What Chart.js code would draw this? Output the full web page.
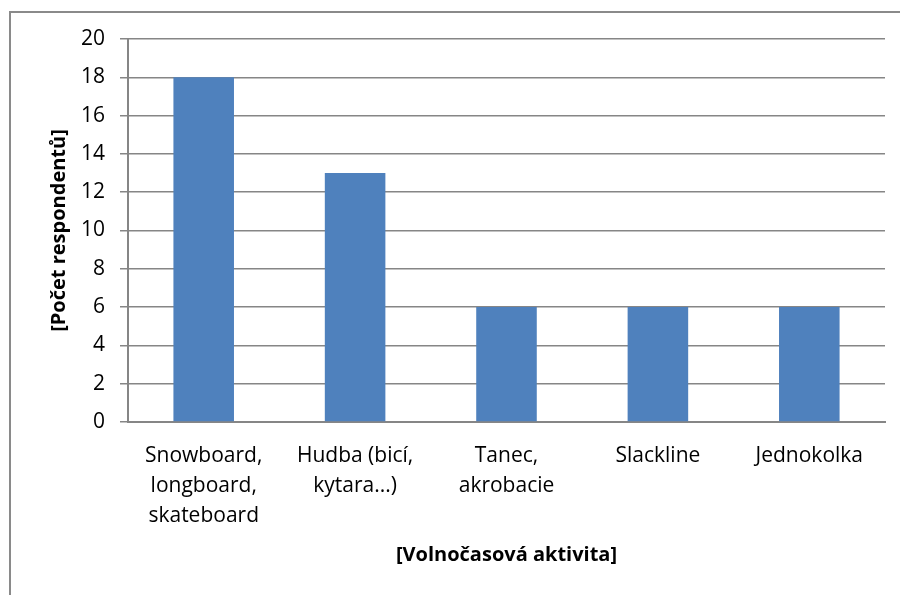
<!DOCTYPE html>
<html>
<head>
<meta charset="utf-8">
<script src="https://cdn.jsdelivr.net/npm/chart.js@4.4.1/dist/chart.umd.min.js"></script>
<style>
  html, body { margin: 0; padding: 0; background: #fff; overflow: hidden; }
  #wrap { position: relative; width: 900px; height: 595px; }
  #frame { position: absolute; left: 9px; top: 11px; width: 1000px; height: 1000px;
           border: 2px solid #8a8a8a; box-sizing: border-box; }
  canvas { position: absolute; left: 0; top: 0; }
</style>
</head>
<body>
<div id="wrap">
  <div id="frame"></div>
  <canvas id="barChart" width="900" height="595"></canvas>
</div>
<script>
let categories = [
    ["Snowboard,", "longboard,", "skateboard"],
    ["Hudba (bicí,", "kytara...)"],
    ["Tanec,", "akrobacie"],
    ["Slackline"],
    ["Jednokolka"]
];
let respondents = [18, 13, 6, 6, 6];
let yTicks = [0, 2, 4, 6, 8, 10, 12, 14, 16, 18, 20];

let fontFamily = "'Open Sans', sans-serif";
let gridGray = "#868686";

let ctx = document.getElementById("barChart").getContext("2d");

let barChart = new Chart(ctx, {
    type: 'bar',
    data: {
        labels: categories,
        datasets: [{
            data: respondents,
            backgroundColor: "#4F81BD",
            borderWidth: 0,
            barPercentage: 0.4,
            categoryPercentage: 1.0
        }]
    },
    options: {
        responsive: false,
        animation: false,
        layout: {
            padding: { top: 39, right: 15, bottom: 0, left: 0 }
        },
        plugins: {
            legend: { display: false },
            tooltip: { enabled: false }
        },
        scales: {
            x: {
                grid: { display: false, drawTicks: false },
                border: { display: true, color: gridGray, width: 2 },
                ticks: {
                    color: "#000",
                    padding: 19,
                    maxRotation: 0,
                    autoSkip: false,
                    font: { family: fontFamily, size: 21, lineHeight: 1.43 }
                },
                title: {
                    display: true,
                    text: "[Volnočasová aktivita]",
                    color: "#000",
                    font: { family: fontFamily, size: 20, weight: 'bold' },
                    padding: { top: 0, bottom: 28 }
                },
                afterFit: function (scale) {
                    scale.height = 173;
                }
            },
            y: {
                min: 0,
                max: 20,
                afterBuildTicks: function (scale) {
                    scale.ticks = yTicks.map(v => ({ value: v }));
                },
                grid: { color: gridGray, lineWidth: 1.5, tickLength: 8 },
                border: { display: true, color: gridGray, width: 2 },
                ticks: {
                    color: "#000",
                    padding: 15,
                    font: { family: fontFamily, size: 21 }
                },
                title: {
                    display: true,
                    text: "[Počet respondentů]",
                    color: "#000",
                    font: { family: fontFamily, size: 20, weight: 'bold' },
                    padding: { top: 47, bottom: 0 }
                },
                afterFit: function (scale) {
                    scale.width = 128;
                }
            }
        }
    }
});
</script>
</body>
</html>
